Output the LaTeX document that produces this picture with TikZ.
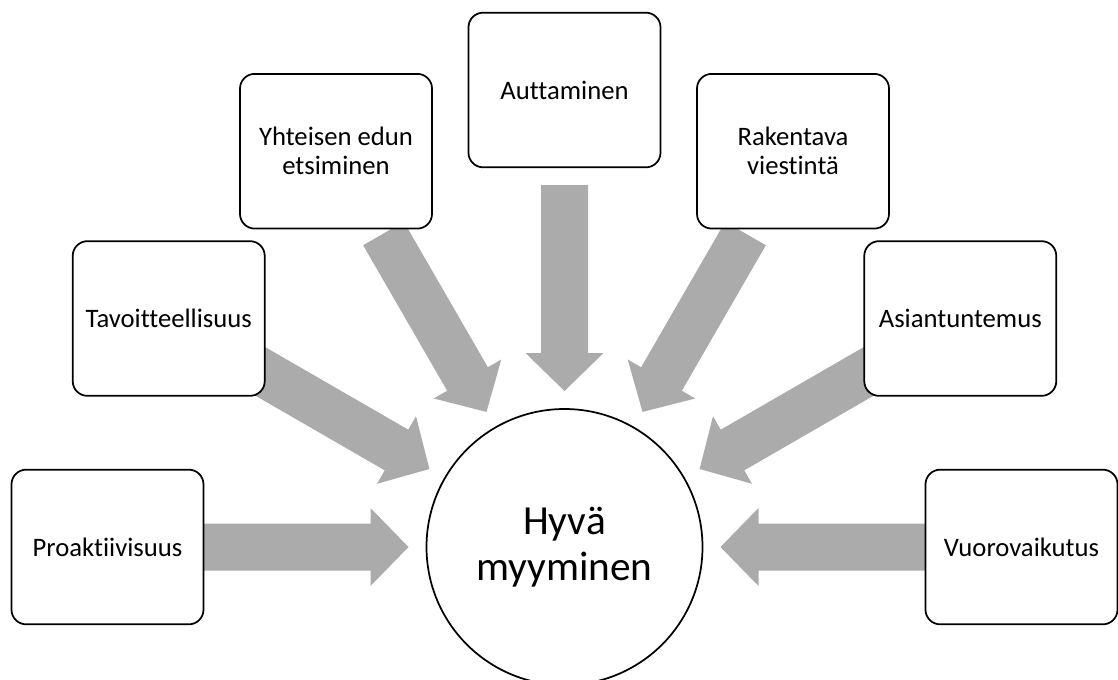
\documentclass[tikz,border=0pt]{standalone}
\usepackage{fontspec}
\setmainfont{Carlito}[Ligatures={NoCommon}]
\usetikzlibrary{calc}
\definecolor{arrowgray}{HTML}{ABABAB}
\tikzset{
  px/.style={x=0.75pt,y=0.75pt},
  bigarrow/.style={fill=arrowgray},
  itembox/.style={draw=black, line width=1.3pt, fill=white, rounded corners=11pt,
    minimum width=144pt, minimum height=116pt, inner sep=0pt, align=center,
    font=\fontsize{20}{21.75}\selectfont},
  hubnode/.style={draw=black, line width=1.3pt, fill=white, circle,
    minimum size=207pt, inner sep=0pt, align=center,
    font=\fontsize{31}{35}\selectfont}
}
\begin{document}
\begin{tikzpicture}[px]
\useasboundingbox (0,0) rectangle (1118,-679);
\coordinate (c) at (564.5,-547);
% block arrows (behind boxes)
\foreach \a in {0,30,60,90,120,150,180} {
  \fill[bigarrow, shift={(c)}, rotate=\a]
    (362,23.5) -- (194,23.5) -- (194,39) -- (156,0) -- (194,-39) -- (194,-23.5) -- (362,-23.5) -- cycle;
}
% boxes
\node[itembox] (pro) at ($(c)+(180:457)$) {Proaktiivisuus};
\node[itembox] (tav) at ($(c)+(150:457)$) {Tavoitteellisuus};
\node[itembox] (yht) at ($(c)+(120:457)$) {Yhteisen edun\\etsiminen};
\node[itembox] (aut) at ($(c)+(90:457)$) {Auttaminen};
\node[itembox] (rak) at ($(c)+(60:457)$) {Rakentava\\viestintä};
\node[itembox] (asi) at ($(c)+(30:457)$) {Asiantuntemus};
\node[itembox] (vuo) at ($(c)+(0:457)$) {Vuorovaikutus};
% hub
\node[hubnode] (hub) at (c) {Hyvä\\myyminen};
\end{tikzpicture}
\end{document}
